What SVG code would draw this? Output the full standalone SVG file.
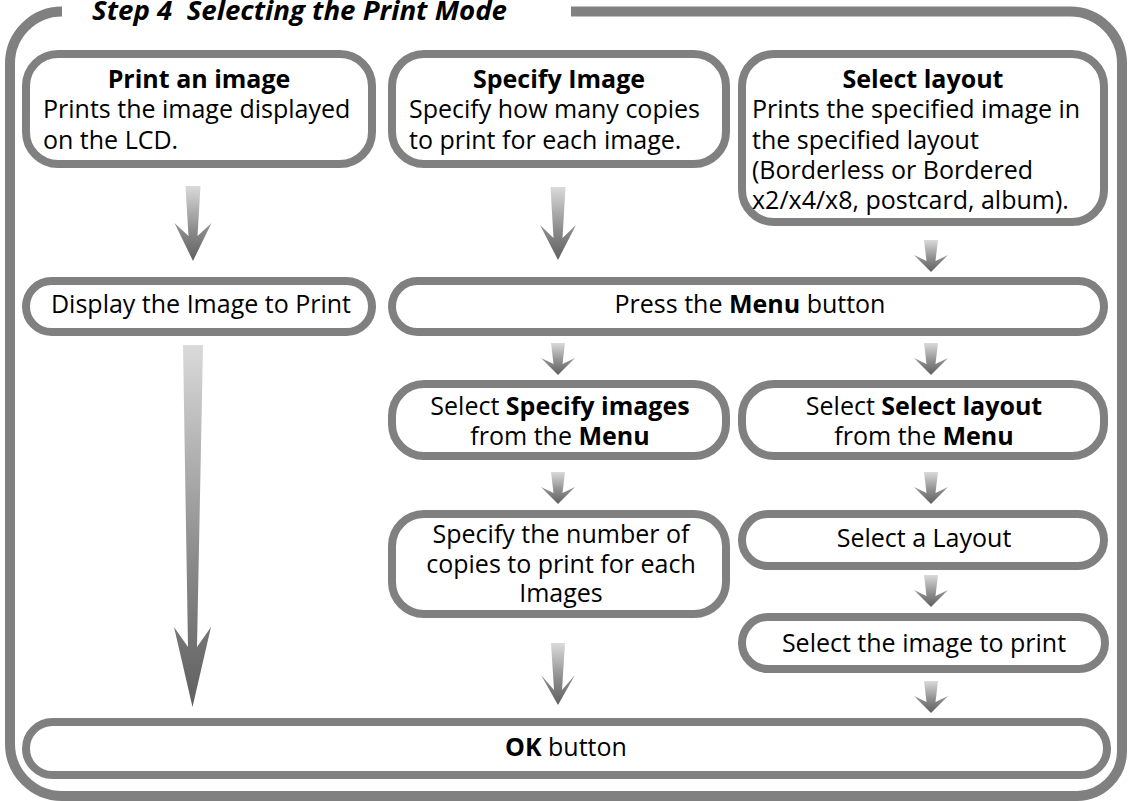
<svg xmlns="http://www.w3.org/2000/svg" width="1132" height="801" viewBox="0 0 1132 801">
<defs>
<linearGradient id="ag" x1="0" y1="0" x2="0" y2="1">
<stop offset="0" stop-color="#dadada"/>
<stop offset="0.6" stop-color="#8a8a8a"/>
<stop offset="1" stop-color="#5f5f5f"/>
</linearGradient>
<style>
.box{fill:#fff;stroke:#808080;stroke-width:8}
.frame{fill:none;stroke:#808080;stroke-width:10}
.t{font-family:"Open Sans","Noto Sans",sans-serif;font-size:25px;fill:#000}
.c{text-anchor:middle}
.b{font-weight:bold}
.arr{fill:url(#ag)}
.title{font-family:"Open Sans","Noto Sans",sans-serif;font-size:27px;font-weight:bold;font-style:italic;fill:#000}
</style>
</defs>
<rect width="1132" height="801" fill="#fff"/>
<g id="frame">
<path class="frame" d="M571 11.5 H1070 A52 52 0 0 1 1122 63.5 V751 A45 45 0 0 1 1077 796 H62 A52 52 0 0 1 10 744 V63.5 A52 52 0 0 1 62 11.5"/>
<text class="title" x="92" y="20" textLength="415" lengthAdjust="spacingAndGlyphs" xml:space="preserve">Step 4  Selecting the Print Mode</text>
</g>
<g id="connectors">
<path class="arr" d="M185.5 186 H200.5 L197.5 236 L211.5 223 L193 261 L174.5 223 L188.5 236 Z"/>
<path class="arr" d="M550.5 187 H565.5 L562.5 238 L576 225 L558 260 L540 225 L553.5 238 Z"/>
<path class="arr" d="M183 345 H203 L197 647 L211 627 L192.5 707 L174 627 L188 647 Z"/>
<path class="arr" d="M551 643 H565 L562 690 L575 675 L558 705 L541 675 L554 690 Z"/>
<path class="arr" d="M924 240 H938 L935.5 261 L948 255 L931 272 L914 255 L926.5 261 Z"/>
<path class="arr" d="M551 343 H565 L562.5 364 L575 358 L558 375 L541 358 L553.5 364 Z"/>
<path class="arr" d="M924 343 H938 L935.5 364 L948 358 L931 375 L914 358 L926.5 364 Z"/>
<path class="arr" d="M551 472 H565 L562.5 493 L575 487 L558 504 L541 487 L553.5 493 Z"/>
<path class="arr" d="M924 472 H938 L935.5 493 L948 487 L931 504 L914 487 L926.5 493 Z"/>
<path class="arr" d="M924 575 H938 L935.5 596 L948 590 L931 607 L914 590 L926.5 596 Z"/>
<path class="arr" d="M924 681 H938 L935.5 702 L948 696 L931 713 L914 696 L926.5 702 Z"/>
</g>
<g id="print-an-image">
<rect class="box" x="26" y="54" width="346" height="110" rx="32"/>
<text class="t"><tspan class="b c" x="199" y="88">Print an image</tspan><tspan x="43" y="118">Prints the image displayed</tspan><tspan x="43" y="148.5">on the LCD.</tspan></text>
</g>
<g id="specify-image">
<rect class="box" x="392" y="54" width="334" height="110" rx="32"/>
<text class="t"><tspan class="b c" x="559" y="88">Specify Image</tspan><tspan x="409" y="118">Specify how many copies</tspan><tspan x="409" y="148.5">to print for each image.</tspan></text>
</g>
<g id="select-layout">
<rect class="box" x="742" y="54" width="362" height="168" rx="32"/>
<text class="t"><tspan class="b c" x="923" y="88">Select layout</tspan><tspan x="752" y="118">Prints the specified image in</tspan><tspan x="752" y="148.5">the specified layout</tspan><tspan x="752" y="179">(Borderless or Bordered</tspan><tspan x="752" y="209">x2/x4/x8, postcard, album).</tspan></text>
</g>
<g id="display-image">
<rect class="box" x="26" y="281" width="346" height="51" rx="25.5"/>
<text class="t c" x="201" y="313">Display the Image to Print</text>
</g>
<g id="press-menu">
<rect class="box" x="392" y="281" width="712" height="51" rx="25.5"/>
<text class="t c" x="750" y="313">Press the <tspan class="b">Menu</tspan> button</text>
</g>
<g id="select-specify-images">
<rect class="box" x="392" y="384" width="334" height="72" rx="32"/>
<text class="t c"><tspan x="560" y="415">Select <tspan class="b">Specify images</tspan></tspan><tspan x="560" y="445">from the <tspan class="b">Menu</tspan></tspan></text>
</g>
<g id="select-select-layout">
<rect class="box" x="742" y="384" width="362" height="72" rx="32"/>
<text class="t c"><tspan x="924" y="415">Select <tspan class="b">Select layout</tspan></tspan><tspan x="924" y="445">from the <tspan class="b">Menu</tspan></tspan></text>
</g>
<g id="specify-number">
<rect class="box" x="392" y="514" width="334" height="100" rx="32"/>
<text class="t c"><tspan x="561" y="543">Specify the number of</tspan><tspan x="561" y="573">copies to print for each</tspan><tspan x="561" y="602">Images</tspan></text>
</g>
<g id="select-a-layout">
<rect class="box" x="742" y="514" width="362" height="52" rx="26"/>
<text class="t c" x="924" y="547">Select a Layout</text>
</g>
<g id="select-image-to-print">
<rect class="box" x="742" y="617" width="363" height="52" rx="26"/>
<text class="t c" x="924" y="652">Select the image to print</text>
</g>
<g id="ok-button">
<rect class="box" x="26" y="722" width="1081" height="53" rx="26.5"/>
<text class="t c" x="566" y="756"><tspan class="b">OK</tspan> button</text>
</g>
</svg>
